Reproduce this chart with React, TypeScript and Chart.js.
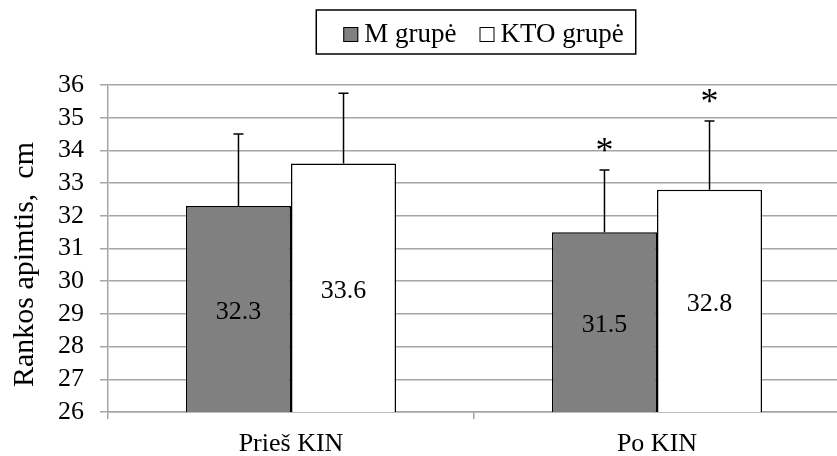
import React, { useEffect, useRef } from "react";
import { Chart, registerables } from "chart.js";

Chart.register(...registerables);

const categories = ["Prieš KIN", "Po KIN"];
const seriesNames = ["M grupė", "KTO grupė"];
const mValues = [32.3, 31.5];
const ktoValues = [33.6, 32.8];
const mSD = [2.2, 1.9];
const ktoSD = [2.15, 2.1];
const mStars = [false, true];
const ktoStars = [false, true];
const yTicks = [26, 27, 28, 29, 30, 31, 32, 33, 34, 35, 36];
const yTitle = "Rankos apimtis,  cm";

const FONT = '"Liberation Serif", "Times New Roman", serif';
const GRID = "#a6a6a6";
const M_COLOR = "#808080";

const sdSets = [mSD, ktoSD];
const starSets = [mStars, ktoStars];

const overlayPlugin = {
  id: "overlay",
  afterDatasetsDraw(chart: any) {
    const ctx = chart.ctx;
    const yScale = chart.scales.y;
    const basePx = yScale.getPixelForValue(yScale.min);
    ctx.save();
    chart.data.datasets.forEach((ds: any, di: number) => {
      const meta = chart.getDatasetMeta(di);
      meta.data.forEach((el: any, i: number) => {
        const v = ds.data[i];
        const topPx = yScale.getPixelForValue(v);
        ctx.fillStyle = "#000";
        ctx.font = `26px ${FONT}`;
        ctx.textAlign = "center";
        ctx.textBaseline = "middle";
        ctx.fillText(v.toFixed(1), el.x, (topPx + basePx) / 2 + 3);
        const top = yScale.getPixelForValue(v + sdSets[di][i]);
        ctx.strokeStyle = "#000";
        ctx.lineWidth = 1.5;
        ctx.beginPath();
        ctx.moveTo(el.x, topPx);
        ctx.lineTo(el.x, top);
        ctx.moveTo(el.x - 5, top);
        ctx.lineTo(el.x + 5, top);
        ctx.stroke();
        if (starSets[di][i]) {
          ctx.font = `36px ${FONT}`;
          ctx.textBaseline = "alphabetic";
          ctx.fillText("*", el.x, top - 25 + 17);
        }
      });
    });
    ctx.restore();
  },
  afterDraw(chart: any) {
    const ctx = chart.ctx;
    const area = chart.chartArea;
    ctx.save();
    // y-axis title
    ctx.save();
    ctx.translate(25, (area.top + area.bottom) / 2 + 16);
    ctx.rotate(-Math.PI / 2);
    ctx.font = `30px ${FONT}`;
    ctx.fillStyle = "#000";
    ctx.textAlign = "center";
    ctx.textBaseline = "middle";
    ctx.fillText(yTitle, 0, 0);
    ctx.restore();
    // legend
    ctx.font = `27px ${FONT}`;
    const sq = 15;
    const gapText = 6;
    const gapItems = 23;
    const padL = 27;
    const padR = 12;
    const widths = seriesNames.map((n) => ctx.measureText(n).width);
    const inner =
      widths.reduce((a, w) => a + sq + gapText + w, 0) + gapItems * (widths.length - 1);
    const total = padL + inner + padR;
    const cx = (area.left + area.right) / 2 + 2;
    const x0 = cx - total / 2;
    const yTop = 10;
    const h = 44;
    ctx.fillStyle = "#fff";
    ctx.fillRect(x0, yTop, total, h);
    ctx.strokeStyle = "#000";
    ctx.lineWidth = 1.5;
    ctx.strokeRect(x0, yTop, total, h);
    let x = x0 + padL;
    chart.data.datasets.forEach((ds: any, i: number) => {
      ctx.fillStyle = ds.backgroundColor;
      ctx.fillRect(x, 27, sq, sq);
      ctx.strokeStyle = "#000";
      ctx.lineWidth = 1;
      ctx.strokeRect(x + 0.5, 27.5, sq - 1, sq - 1);
      ctx.fillStyle = "#000";
      ctx.textAlign = "left";
      ctx.textBaseline = "alphabetic";
      ctx.fillText(seriesNames[i], x + sq + gapText, 42);
      x += sq + gapText + widths[i] + gapItems;
    });
    ctx.restore();
  },
};

export default function App() {
  const ref = useRef<HTMLCanvasElement | null>(null);
  useEffect(() => {
    document.body.style.margin = "0";
    document.body.style.overflow = "hidden";
    const canvas = ref.current!;
    const chart = new Chart(canvas, {
      type: "bar",
      data: {
        labels: categories,
        datasets: [
          {
            label: seriesNames[0],
            data: mValues,
            backgroundColor: M_COLOR,
            borderColor: "#000",
            borderWidth: 1.5,
          },
          {
            label: seriesNames[1],
            data: ktoValues,
            backgroundColor: "#ffffff",
            borderColor: "#000",
            borderWidth: 1.5,
          },
        ],
      },
      options: {
        responsive: false,
        animation: false,
        devicePixelRatio: 1,
        layout: { padding: { top: 85, left: 0, right: 0, bottom: 0 } },
        datasets: { bar: { barPercentage: 1, categoryPercentage: 0.574 } },
        plugins: {
          legend: { display: false },
          tooltip: { enabled: false },
        },
        scales: {
          x: {
            grid: {
              drawOnChartArea: false,
              drawTicks: true,
              tickLength: 7,
              color: GRID,
              lineWidth: 1.5,
            },
            border: { color: GRID, width: 1.5 },
            ticks: {
              color: "#000",
              font: { family: FONT, size: 26 },
              padding: 10,
            },
            afterFit: (s: any) => {
              s.height = 44;
            },
          },
          y: {
            min: 26,
            max: 36,
            afterBuildTicks: (s: any) => {
              s.ticks = yTicks.map((v) => ({ value: v }));
            },
            grid: {
              color: GRID,
              lineWidth: 1.5,
              tickLength: 8,
            },
            border: { color: GRID, width: 1.5 },
            ticks: {
              color: "#000",
              font: { family: FONT, size: 26, lineHeight: 1 },
              padding: 16,
              autoSkip: false,
            },
            afterFit: (s: any) => {
              s.width = 108;
            },
          },
        },
      },
      plugins: [overlayPlugin],
    });
    return () => chart.destroy();
  }, []);
  return (
    <div style={{ position: "absolute", left: 0, top: 0, width: 837, height: 456, overflow: "hidden" }}>
      <canvas ref={ref} width={840} height={456} style={{ display: "block" }} />
    </div>
  );
}
